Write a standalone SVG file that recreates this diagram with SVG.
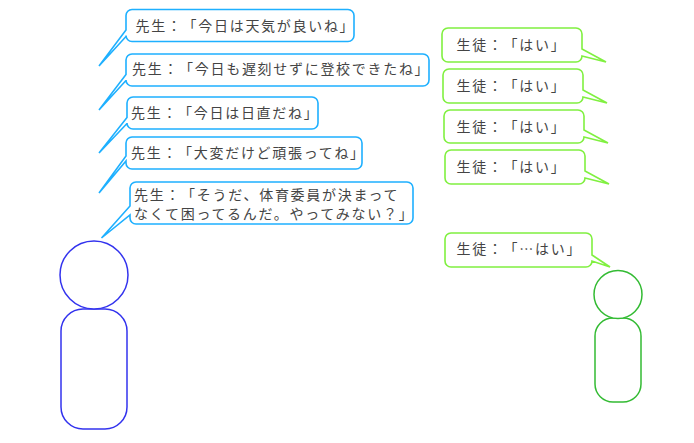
<svg xmlns="http://www.w3.org/2000/svg" width="694" height="443" viewBox="0 0 694 443">
<style>
text{font-family:"Noto Sans CJK JP","Noto Sans CJK SC",sans-serif;font-size:14px;letter-spacing:1.7px;fill:#444;text-spacing-trim:space-all;font-feature-settings:"chws" 0,"palt" 0}
.t{fill:#fff;stroke:#1eb0ff;stroke-width:1.6;stroke-linejoin:miter}
.s{fill:#fff;stroke:#80f040;stroke-width:1.6;stroke-linejoin:miter}
.a{fill:#fff;stroke:#3333ee;stroke-width:1.5}
.b{fill:#fff;stroke:#33bb33;stroke-width:1.5}
</style>
<rect width="694" height="443" fill="#fff"/>
<g id="teacher-figure">
<rect class="a" x="61" y="309" width="66" height="120" rx="22"/>
<circle class="a" cx="94" cy="275" r="34"/>
</g>
<g id="student-figure">
<rect class="b" x="595" y="318" width="46" height="84" rx="18"/>
<circle class="b" cx="618" cy="294.500" r="24"/>
</g>
<g id="teacher-1">
<path class="t" d="M132 9.5H348a6 6 0 0 1 6 6V35.500a6 6 0 0 1-6 6H132a6 6 0 0 1-6-6V36.500L99 66 126 30V15.500a6 6 0 0 1 6-6Z"/>
<text x="135.500" y="31">先生：「今日は天気が良いね」</text>
</g>
<g id="teacher-2">
<path class="t" d="M132 54H423a6 6 0 0 1 6 6V80a6 6 0 0 1-6 6H132a6 6 0 0 1-6-6V80.500L99 110 126 74.500V60a6 6 0 0 1 6-6Z"/>
<text x="132" y="74">先生：「今日も遅刻せずに登校できたね」</text>
</g>
<g id="teacher-3">
<path class="t" d="M133 97H312a6 6 0 0 1 6 6V123a6 6 0 0 1-6 6H133a6 6 0 0 1-6-6V123.500L99 153 127 117.500V103a6 6 0 0 1 6-6Z"/>
<text x="131" y="118">先生：「今日は日直だね」</text>
</g>
<g id="teacher-4">
<path class="t" d="M132 137H356a6 6 0 0 1 6 6V163a6 6 0 0 1-6 6H132a6 6 0 0 1-6-6V161L99 193 126 156V143a6 6 0 0 1 6-6Z"/>
<text x="131" y="158">先生：「大変だけど頑張ってね」</text>
</g>
<g id="teacher-5">
<path class="t" d="M136 182H407a6 6 0 0 1 6 6V218a6 6 0 0 1-6 6H136a6 6 0 0 1-6-6V215L101.500 238 130 206V188a6 6 0 0 1 6-6Z"/>
<text x="134" y="200">先生：「そうだ、体育委員が決まって</text>
<text x="134" y="219">なくて困ってるんだ。やってみない？」</text>
</g>
<g id="student-1">
<path class="s" d="M448 28H576a6 6 0 0 1 6 6V49L606 62 582 56a6 6 0 0 1-6 6H448a6 6 0 0 1-6-6V34a6 6 0 0 1 6-6Z"/>
<text x="456.500" y="50">生徒：「はい」</text>
</g>
<g id="student-2">
<path class="s" d="M449 69H577a6 6 0 0 1 6 6V90L607 103 583 97a6 6 0 0 1-6 6H449a6 6 0 0 1-6-6V75a6 6 0 0 1 6-6Z"/>
<text x="456.500" y="91">生徒：「はい」</text>
</g>
<g id="student-3">
<path class="s" d="M450 110H578a6 6 0 0 1 6 6V130L608 143 584 137a6 6 0 0 1-6 6H450a6 6 0 0 1-6-6V116a6 6 0 0 1 6-6Z"/>
<text x="456.500" y="132">生徒：「はい」</text>
</g>
<g id="student-4">
<path class="s" d="M451 150H579a6 6 0 0 1 6 6V171L609 184 585 178a6 6 0 0 1-6 6H451a6 6 0 0 1-6-6V156a6 6 0 0 1 6-6Z"/>
<text x="456.500" y="172">生徒：「はい」</text>
</g>
<g id="student-5">
<path class="s" d="M451 233H586a6 6 0 0 1 6 6V255L610 267 592 261a6 6 0 0 1-6 6H451a6 6 0 0 1-6-6V239a6 6 0 0 1 6-6Z"/>
<text x="456.500" y="254">生徒：「…はい」</text>
</g>
</svg>
